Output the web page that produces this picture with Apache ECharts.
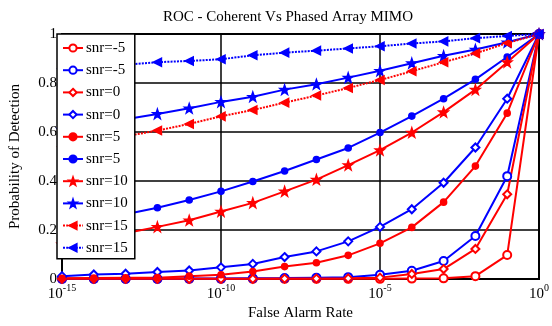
<!DOCTYPE html>
<html>
<head>
<meta charset="utf-8">
<script src="https://cdn.jsdelivr.net/npm/echarts@6/dist/echarts.min.js"></script>
<style>html,body{margin:0;padding:0;background:#fff}#c{width:552px;height:326px}</style>
</head>
<body>
<div id="c"></div>
<script>
// False alarm rate exponents (10^x)
const farExp = [-15,-14,-13,-12,-11,-10,-9,-8,-7,-6,-5,-4,-3,-2,-1,0];
const xTicks = [-15,-10,-5,0];
const yTicks = [0,0.2,0.4,0.6,0.8,1];
const legendNames = ['snr=-5','snr=-5','snr=0','snr=0','snr=5','snr=5','snr=10','snr=10','snr=15','snr=15'];

const redM5  = [0.001,0.001,0.001,0.001,0.001,0.001,0.001,0.001,0.001,0.001,0.001,0.002,0.003,0.012,0.098,1];
const blueM5 = [0.001,0.001,0.001,0.001,0.002,0.002,0.003,0.004,0.006,0.008,0.018,0.034,0.074,0.176,0.42,1];
const red0   = [0.001,0.001,0.001,0.001,0.001,0.001,0.001,0.002,0.002,0.003,0.006,0.021,0.041,0.123,0.346,1];
const blue0  = [0.012,0.019,0.022,0.029,0.035,0.048,0.062,0.09,0.113,0.154,0.213,0.285,0.393,0.537,0.736,1];
const red5   = [0.003,0.004,0.005,0.006,0.012,0.018,0.031,0.051,0.067,0.097,0.146,0.211,0.314,0.461,0.677,1];
const blue5  = [0.217,0.24,0.265,0.291,0.323,0.358,0.398,0.441,0.488,0.535,0.598,0.665,0.736,0.815,0.906,1];
const red10  = [0.142,0.163,0.187,0.213,0.24,0.276,0.311,0.358,0.406,0.465,0.526,0.598,0.681,0.773,0.885,1];
const blue10 = [0.61,0.63,0.652,0.674,0.697,0.723,0.744,0.773,0.795,0.822,0.85,0.881,0.911,0.937,0.966,1];
const red15  = [0.54,0.56,0.583,0.606,0.633,0.664,0.69,0.72,0.749,0.78,0.812,0.848,0.885,0.921,0.963,1];
const blue15 = [0.858,0.866,0.875,0.885,0.89,0.897,0.913,0.924,0.932,0.941,0.95,0.961,0.97,0.983,0.992,1];

const FONT = 'Liberation Serif';
const RED = '#ff0000', BLUE = '#0000ff';
const STAR = 'path://M0,-10 L2.35,-3.24 L9.51,-3.09 L3.8,1.24 L5.88,8.09 L0,4 L-5.88,8.09 L-3.8,1.24 L-9.51,-3.09 L-2.35,-3.24 Z';
const LTRI = 'path://M0,5 L9,0 L9,10 Z';

function mk(idx, values, color, symbol, size, dotted) {
  return {
    name: idx + '|' + legendNames[idx],
    type: 'line',
    data: farExp.map((x, i) => [x, values[i]]),
    clip: false,
    symbol: symbol,
    symbolSize: size,
    showSymbol: true,
    lineStyle: { color: color, width: 2, type: dotted ? [2, 1.2] : 'solid' },
    itemStyle: { color: color, borderColor: color, borderWidth: 1.6 },
    emphasis: { disabled: true },
    animation: false
  };
}

const series = [
  mk(0, redM5, RED, 'emptyCircle', 8, false),
  mk(1, blueM5, BLUE, 'emptyCircle', 8, false),
  mk(2, red0, RED, 'emptyDiamond', 8, false),
  mk(3, blue0, BLUE, 'emptyDiamond', 8, false),
  mk(4, red5, RED, 'circle', 6, false),
  mk(5, blue5, BLUE, 'circle', 6, false),
  mk(6, red10, RED, STAR, 9, false),
  mk(7, blue10, BLUE, STAR, 9, false),
  mk(8, red15, RED, LTRI, 8, true),
  mk(9, blue15, BLUE, LTRI, 8, true)
];

const chart = echarts.init(document.getElementById('c'), null, { renderer: 'canvas' });
chart.setOption({
  animation: false,
  backgroundColor: '#fff',
  title: {
    text: 'ROC - Coherent Vs Phased Array MIMO',
    left: 283, textAlign: 'center', top: 5,
    textStyle: { fontFamily: FONT, fontSize: 15, fontWeight: 'normal', color: '#000' }
  },
  grid: { left: 57, right: 7, top: 34, bottom: 38, show: true, borderColor: '#000', borderWidth: 2, backgroundColor: 'transparent' },
  legend: {
    orient: 'vertical', left: 57, top: 34,
    data: series.map(s => s.name),
    formatter: n => n.split('|')[1],
    backgroundColor: '#fff', borderColor: '#000', borderWidth: 1.5, borderRadius: 0,
    padding: [6.5, 7, 3.5, 5], itemGap: 7.2, itemWidth: 20, itemHeight: 9,
    textStyle: { fontFamily: FONT, fontSize: 15, color: '#000', padding: [0, 0, 0, -2] },
    selectedMode: false, z: 10
  },
  xAxis: {
    type: 'value', min: xTicks[0], max: xTicks[xTicks.length - 1], interval: 5,
    name: 'False Alarm Rate', nameLocation: 'middle', nameGap: 19,
    nameTextStyle: { fontFamily: FONT, fontSize: 15, color: '#000' },
    axisLine: { show: true, lineStyle: { color: '#000', width: 2 } },
    axisTick: { show: false },
    splitLine: { show: true, lineStyle: { color: '#000', width: 1.5 } },
    axisLabel: {
      margin: 4, showMinLabel: true, showMaxLabel: true,
      formatter: v => '{b|10}{s|' + v + '}',
      rich: {
        b: { fontFamily: FONT, fontSize: 15, color: '#000', lineHeight: 18, verticalAlign: 'bottom' },
        s: { fontFamily: FONT, fontSize: 10, color: '#000', lineHeight: 18, verticalAlign: 'top' }
      }
    }
  },
  yAxis: {
    type: 'value', min: yTicks[0], max: yTicks[yTicks.length - 1], interval: 0.2,
    name: 'Probability of Detection', nameLocation: 'middle', nameGap: 39,
    nameTextStyle: { fontFamily: FONT, fontSize: 15, color: '#000' },
    axisLine: { show: true, lineStyle: { color: '#000', width: 2 } },
    axisTick: { show: false },
    splitLine: { show: true, lineStyle: { color: '#000', width: 1.5 } },
    axisLabel: { margin: 5, fontFamily: FONT, fontSize: 15, color: '#000' }
  },
  series: series
});
</script>
</body>
</html>
